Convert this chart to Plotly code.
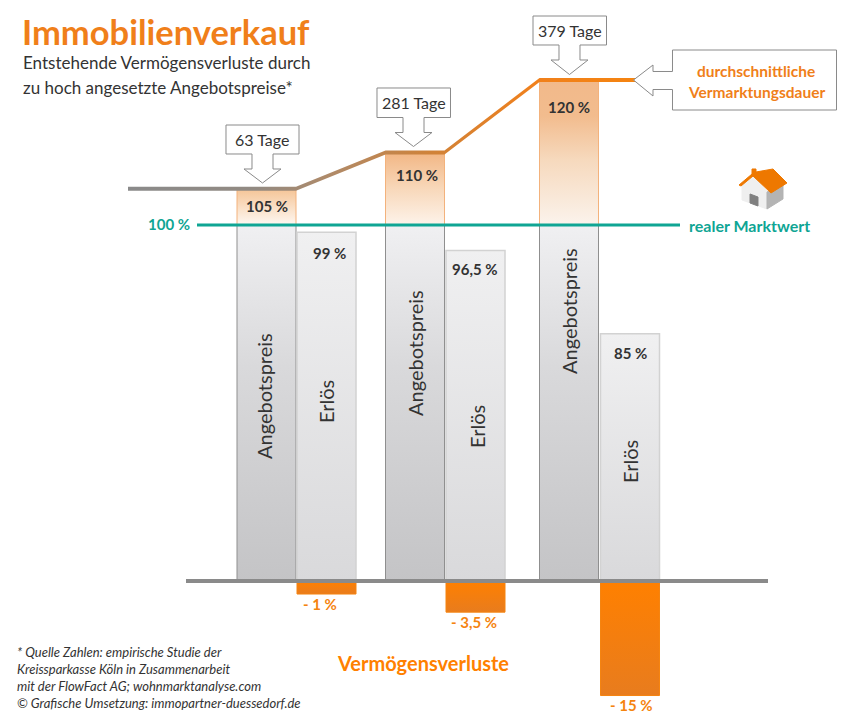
import plotly.graph_objects as go

# values
days = [63, 281, 379]
price_pct = [105, 110, 120]
revenue_pct = [99, 96.5, 85]
loss_pct = [-1, -3.5, -15]
price_labels = ["105 %", "110 %", "120 %"]
revenue_labels = ["99 %", "96,5 %", "85 %"]
loss_labels = ["- 1 %", "- 3,5 %", "- 15 %"]
market_value = 100
axis_floor = 50.9

W, H = 862, 717
PX_PER_PCT = 7.25
ORANGE = "#F07F1A"
TEAL = "#0FA594"
GREY = "#8A8A8A"
FONT = "Lato"

# the page is one big plot: x in pixels, y in percent (truncated axis)
y_top = market_value + 225 / PX_PER_PCT
y_bottom = market_value - (H - 225) / PX_PER_PCT

price_left = [237, 385.5, 539.5]
revenue_left = [297, 446, 600.5]
bar_w = 59

fig = go.Figure()


def gradient_bar(x0, w, y0, y1, scale, line, lw=1):
    fig.add_trace(go.Scatter(
        x=[x0, x0, x0 + w, x0 + w, x0],
        y=[y0, y1, y1, y0, y0],
        mode="lines",
        fill="toself",
        fillgradient=dict(type="vertical", colorscale=scale),
        line=dict(color=line, width=lw),
        hoverinfo="skip",
    ))


def px_path(points):
    pts = [f"{x / W:.5f},{1 - y / H:.5f}" for x, y in points]
    return "M" + " L".join(pts) + " Z"


def poly(points, fill, line=None, lw=1):
    fig.add_shape(type="path", xref="paper", yref="paper", path=px_path(points),
                  fillcolor=fill, line=dict(color=line or fill, width=lw))


def note(text, x, y, size=15, color="#333333", bold=False, italic=False, anchor="center", angle=0):
    if bold:
        text = f"<b>{text}</b>"
    if italic:
        text = f"<i>{text}</i>"
    fig.add_annotation(text=text, x=x / W, y=1 - y / H, xref="paper", yref="paper",
                       showarrow=False, xanchor=anchor, yanchor="middle", textangle=angle,
                       font=dict(family=FONT, size=size, color=color))


# loss bars hang below the base line, with the small constant offset seen in the picture
for left, loss in zip(revenue_left, loss_pct):
    gradient_bar(left, bar_w, axis_floor, axis_floor - 0.8 + loss,
                 [[0, "#E87C1E"], [1, "#FF8000"]], "#F58410")

for left, val in zip(price_left, price_pct):
    gradient_bar(left, bar_w, axis_floor, market_value,
                 [[0, "#C4C4C6"], [0.6, "#D9D9DB"], [1, "#F0F0F2"]], "#8F8F8F")
    if val >= 120:
        scale = [[0, "#FBF3EC"], [0.45, "#F6D9BD"], [0.75, "#F2BC8E"], [1, "#F2B98A"]]
    elif val >= 110:
        scale = [[0, "#FDF3EA"], [0.5, "#F8D8BA"], [1, "#F2B684"]]
    else:
        scale = [[0, "#FEF8F2"], [1, "#F5C496"]]
    gradient_bar(left, bar_w, market_value, val, scale, "#F3B27C")

for left, val in zip(revenue_left, revenue_pct):
    gradient_bar(left, bar_w, axis_floor, val,
                 [[0, "#D9D9DB"], [1, "#F0F0F1"]], "#D2D2D2", 1.5)

# thick line over the price plateaus, grey on the left turning orange on the right
line_x = [128, price_left[0], price_left[0] + bar_w, price_left[1], price_left[1] + bar_w,
          price_left[2], price_left[2] + bar_w, 636]
line_y = [price_pct[0], price_pct[0], price_pct[0], price_pct[1], price_pct[1],
          price_pct[2], price_pct[2], price_pct[2]]
half = 0.28
fig.add_trace(go.Scatter(
    x=line_x + line_x[::-1],
    y=[v + half for v in line_y] + [v - half for v in line_y[::-1]],
    mode="lines",
    fill="toself",
    fillgradient=dict(type="horizontal", colorscale=[[0, "#8A8A8A"], [0.25, "#928A82"], [0.4, "#B08A68"],
                                                     [0.6, "#D08238"], [0.8, "#F0801C"], [1, "#F58410"]]),
    line=dict(width=0),
    hoverinfo="skip",
))

# 100 % line and base line
fig.add_trace(go.Scatter(x=[197, 680], y=[market_value, market_value], mode="lines",
                         line=dict(color=TEAL, width=3), hoverinfo="skip"))
fig.add_trace(go.Scatter(x=[186, 768], y=[axis_floor, axis_floor], mode="lines",
                         line=dict(color=GREY, width=4), hoverinfo="skip"))


# callouts pointing down at the plateaus
def down_callout(x0, x1, y0, y1, tip_x, tip_y):
    poly([(x0, y0), (x1, y0), (x1, y1), (tip_x + 10.5, y1), (tip_x + 10.5, y1 + 15),
          (tip_x + 18.5, y1 + 15), (tip_x, tip_y), (tip_x - 18.5, y1 + 15),
          (tip_x - 10.5, y1 + 15), (tip_x - 10.5, y1), (x0, y1)], "white", GREY)


down_callout(226, 299, 125, 154, 262.5, 183)
down_callout(377, 450.5, 88, 117.5, 413.5, 146.5)
down_callout(533, 606.5, 16, 45, 569.5, 74.5)
poly([(672.5, 50), (836.5, 50), (836.5, 110), (672.5, 110), (672.5, 89.5), (653, 89.5), (653, 96),
      (633.5, 80), (653, 65), (653, 71.5), (672.5, 71.5)], "white", GREY)

# house icon
poly([(742, 184), (753, 176), (767, 191), (767, 209), (742, 200)], "#EFEFEF")
poly([(767, 209), (783, 199), (783, 184), (767, 192)], "#B4B4B4")
poly([(750, 194), (758, 197), (758, 206), (750, 203)], "#808080")
poly([(739, 185), (752, 174), (752, 169), (756, 169), (756, 172), (773, 169), (787, 183), (771, 193), (753, 176), (741, 186)],
     "#EE7800")

# texts
note("Immobilienverkauf", 20, 31, size=34.5, color=ORANGE, bold=True, anchor="left")
note("Entstehende Vermögensverluste durch", 20.5, 63, size=17, anchor="left")
note("zu hoch angesetzte Angebotspreise*", 20.5, 87, size=17, anchor="left")

for d, x, y in zip(days, [262, 414, 570], [139, 103, 30]):
    note(f"{d} Tage", x, y, size=16)

for lab, x, y in zip(price_labels, [267, 417, 569], [206, 175, 107]):
    note(lab, x, y, bold=True)
for lab, x, y in zip(revenue_labels, [329, 475, 630], [253, 269, 353]):
    note(lab, x, y, bold=True)
for lab, x, y in zip(loss_labels, [320, 474, 631], [604, 622, 705]):
    note(lab, x, y, color="#F58410", bold=True)
for x, y in zip([264, 415, 569], [396, 353, 311]):
    note("Angebotspreis", x, y, size=20, angle=-90)
for x, y in zip([326, 477, 630], [402, 427, 462]):
    note("Erlös", x, y, size=20, angle=-90)

note("100 %", 169, 224, color=TEAL, bold=True)
note("realer Marktwert", 749, 225, size=16, color=TEAL, bold=True)
note("durchschnittliche", 756, 71, size=15.5, color=ORANGE, bold=True)
note("Vermarktungsdauer", 756, 92, size=15.5, color=ORANGE, bold=True)
note("Vermögensverluste", 423, 663, size=20, color="#FF8000", bold=True)

foot = ["* Quelle Zahlen: empirische Studie der", "Kreissparkasse Köln in Zusammenarbeit",
        "mit der FlowFact AG; wohnmarktanalyse.com", "© Grafische Umsetzung: immopartner-duessedorf.de"]
for line, y in zip(foot, [652, 669, 686, 703]):
    note(line, 15, y, size=13, italic=True, anchor="left")

fig.update_layout(
    width=W, height=H,
    margin=dict(l=0, r=0, t=0, b=0),
    paper_bgcolor="white",
    plot_bgcolor="white",
    showlegend=False,
    xaxis=dict(range=[0, W], visible=False),
    yaxis=dict(range=[y_bottom, y_top], visible=False),
)

fig.write_html("out.html", post_script="document.body.style.margin='0';",
               config=dict(displayModeBar=False))
